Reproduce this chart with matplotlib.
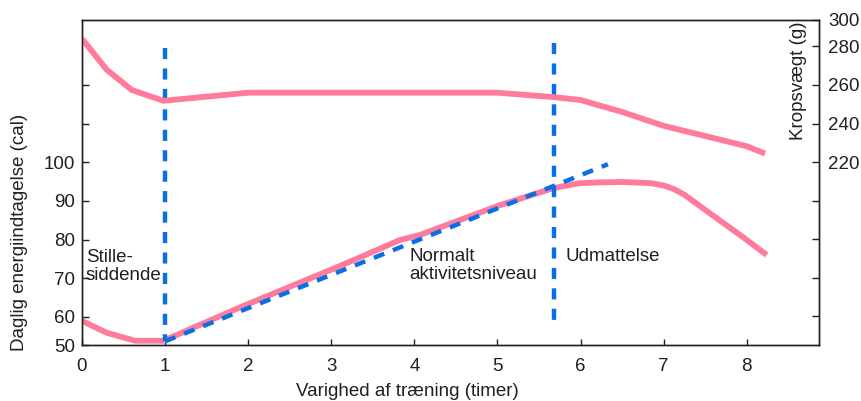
import numpy as np
import matplotlib
matplotlib.use("Agg")
import matplotlib.pyplot as plt

plt.rcParams["font.family"] = ["Liberation Sans", "DejaVu Sans"]
plt.rcParams["font.size"] = 13.5

# Daily energy intake (left axis, cal) vs. hours of training
intake_hours = [0.0, 0.3, 0.64, 0.98, 1.90, 3.10, 3.83, 4.07, 5.03, 5.67, 5.99,
                6.23, 6.5, 6.85, 7.0, 7.12, 7.25, 7.64, 7.95, 8.24]
intake_cal = [58.5, 54.3, 51.5, 51.5, 62.4, 73.1, 79.9, 81.2, 88.9, 93.3, 94.6,
              94.8, 94.9, 94.6, 94.0, 93.1, 91.6, 85.5, 80.7, 76.0]

# Body weight (right axis, g) vs. hours of training
weight_hours = [0.0, 0.3, 0.6, 0.98, 2.0, 5.0, 5.7, 6.0, 6.5, 7.0, 7.5, 8.0, 8.22]
weight_g = [285.7, 267.8, 257.4, 251.8, 256.0, 256.0, 253.6, 252.2, 246.0,
            238.8, 233.5, 228.2, 224.4]

# Expected intake if it kept rising with activity
trend_hours = [1.0, 6.33]
trend_cal = [51.3, 99.5]

# Boundaries between the three regimes
boundary_hours = [1.0, 5.68]
boundary_top = [129.7, 131.0]
boundary_bottom = [51.3, 57.1]

regime_labels = ["Stille-\nsiddende", "Normalt\naktivitetsniveau", "Udmattelse"]
regime_x = [0.045, 3.94, 5.82]
regime_y = [77.5, 77.9, 77.8]

x_ticks = [0, 1, 2, 3, 4, 5, 6, 7, 8]
left_ticks = [50, 60, 70, 80, 90, 100, 110, 120]
left_labels = ["50", "60", "70", "80", "90", "100", "", ""]
right_ticks = [140, 160, 180, 200, 220, 240, 260, 280, 300]
right_labels = ["", "", "", "", "220", "240", "260", "280", "300"]

PINK = "#FF7B9B"
BLUE = "#0A6FE6"
INK = "#231F20"
FS = 13.5

# Axis breaks: the 50-60 cal and 280-300 g stretches are drawn compressed
K_LEFT = 0.733
K_RIGHT = 0.70


def left_fwd(v):
    v = np.asarray(v, dtype=float)
    return np.where(v >= 60, v, 60 - (60 - v) * K_LEFT)


def left_inv(u):
    u = np.asarray(u, dtype=float)
    return np.where(u >= 60, u, 60 - (60 - u) / K_LEFT)


def right_fwd(v):
    v = np.asarray(v, dtype=float)
    return np.where(v <= 280, v, 280 + (v - 280) * K_RIGHT)


def right_inv(u):
    u = np.asarray(u, dtype=float)
    return np.where(u <= 280, u, 280 + (u - 280) / K_RIGHT)


W, H = 862, 401
fig = plt.figure(figsize=(W / 100, H / 100), dpi=100)
ax = fig.add_axes([82 / W, 1 - 345 / H, (819 - 82) / W, (345 - 19.5) / H])
ax2 = ax.twinx()

ax.set_yscale("function", functions=(left_fwd, left_inv))
ax2.set_yscale("function", functions=(right_fwd, right_inv))
ax.set_xlim(0, 8.87)
ax.set_ylim(50, 137)
ax2.set_ylim(125, 300)

ax.plot(intake_hours, intake_cal, color=PINK, lw=4.2, solid_capstyle="butt",
        solid_joinstyle="round", zorder=2)
ax2.plot(weight_hours, weight_g, color=PINK, lw=4.2, solid_capstyle="butt",
         solid_joinstyle="round", zorder=2)

dash_style = (0, (2.5, 2.1))
ax.plot(trend_hours, trend_cal, color=BLUE, lw=3.2, linestyle=dash_style,
        dash_capstyle="butt", zorder=3)
for xb, top, bottom in zip(boundary_hours, boundary_top, boundary_bottom):
    ax.plot([xb, xb], [top, bottom], color=BLUE, lw=3.2, linestyle=dash_style,
            dash_capstyle="butt", zorder=3)

for label, xt, yt in zip(regime_labels, regime_x, regime_y):
    ax.text(xt, yt, label, ha="left", va="top", fontsize=FS, color=INK,
            linespacing=1.08, zorder=4)

ax.set_xticks(x_ticks)
ax.set_xticklabels([str(t) for t in x_ticks])
ax.set_yticks(left_ticks)
ax.set_yticklabels(left_labels)
ax.yaxis.set_minor_locator(matplotlib.ticker.NullLocator())
ax2.set_yticks(right_ticks)
ax2.set_yticklabels(right_labels)
ax2.yaxis.set_minor_locator(matplotlib.ticker.NullLocator())

ax.tick_params(axis="x", direction="in", length=4, width=1.0, pad=9.5,
               labelsize=FS, colors=INK, top=False)
ax.tick_params(axis="y", direction="in", length=5, width=1.0, pad=5,
               labelsize=FS, colors=INK, right=False)
ax2.tick_params(axis="y", direction="in", length=5, width=1.0, pad=6.5,
                labelsize=FS, colors=INK)

for a in (ax, ax2):
    for spine in a.spines.values():
        spine.set_linewidth(1.0)
        spine.set_color(INK)

fig.text(20 / W, 1 - 232 / H, "Daglig energiindtagelse (cal)", rotation=90,
         ha="center", va="center", fontsize=FS, color=INK)
fig.text(799 / W, 1 - 22 / H, "Kropsvægt (g)", rotation=90,
         ha="center", va="top", fontsize=FS, color=INK)
fig.text(407 / W, 1 - 396 / H, "Varighed af træning (timer)",
         ha="center", va="baseline", fontsize=FS, color=INK)

fig.savefig("out.png", dpi=100)
